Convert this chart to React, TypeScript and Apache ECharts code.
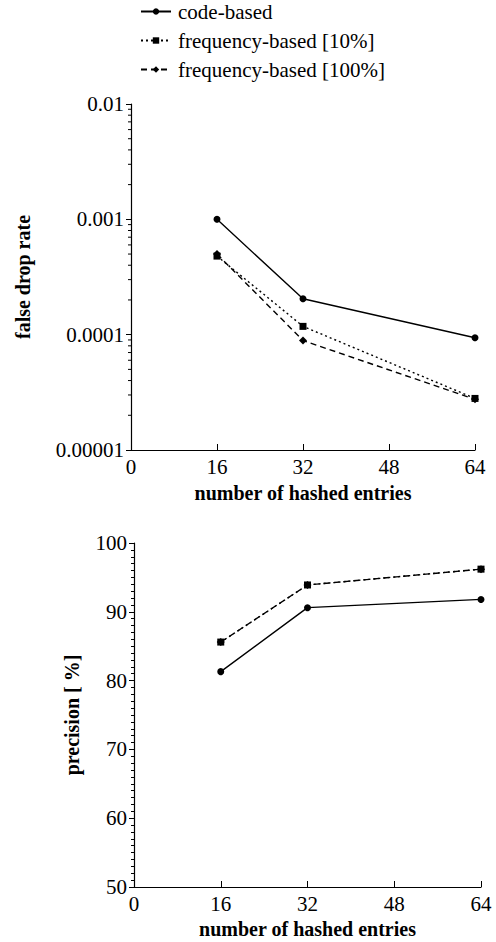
import React, { useEffect, useRef } from "react";
import * as echarts from "echarts";

const hashedEntries = [16, 32, 64];
const seriesNames = ["code-based", "frequency-based [10%]", "frequency-based [100%]"];

const codeFalseDrop = [0.001, 0.000205, 0.000094];
const freq10FalseDrop = [0.00048, 0.000118, 0.000028];
const freq100FalseDrop = [0.0005, 0.000089, 0.0000275];

const codePrecision = [81.3, 90.6, 91.8];
const freq10Precision = [85.6, 93.9, 96.2];
const freq100Precision = [85.6, 93.9, 96.2];

const falseDropTickLabels = ["0.00001", "0.0001", "0.001", "0.01"];
const falseDropDecades = [-5, -4, -3];
const minorMultipliers = [2, 3, 4, 5, 6, 7, 8, 9];

const FONT = "'Liberation Serif', 'Times New Roman', serif";

function pairs(xs: number[], ys: number[]) {
  return xs.map((x, i) => [x, ys[i]]);
}

export default function App() {
  const ref = useRef<HTMLDivElement>(null);
  useEffect(() => {
    if (!ref.current) return;
    const chart = echarts.init(ref.current, null, { renderer: "svg" });

    const minorTickValues: number[][] = [];
    falseDropDecades.forEach((d) =>
      minorMultipliers.forEach((m) => minorTickValues.push([0, m * Math.pow(10, d)]))
    );

    const styles = [
      { type: "solid", symbol: "circle", size: 7 },
      { type: [2, 3], symbol: "rect", size: 7 },
      { type: [6, 4], symbol: "diamond", size: 8 },
    ];

    const mkSeries = (name: string, idx: number, data: number[][], s: any, z: number) => ({
      name,
      type: "line",
      xAxisIndex: idx,
      yAxisIndex: idx,
      data,
      symbol: s.symbol,
      symbolSize: s.size,
      lineStyle: { color: "#000", width: 1.4, type: s.type },
      itemStyle: { color: "#000" },
      z,
    });

    const axisText = { color: "#000", fontFamily: FONT, fontSize: 21 };
    const nameText = { color: "#000", fontFamily: FONT, fontSize: 20, fontWeight: "bold" as const };

    const xAxisBase = (gridIndex: number, gap: number) => ({
      type: "value",
      gridIndex,
      min: 0,
      max: 64,
      interval: 16,
      name: "number of hashed entries",
      nameLocation: "middle",
      nameGap: gap,
      nameTextStyle: nameText,
      axisLine: { lineStyle: { color: "#000", width: 1.2 } },
      axisTick: { inside: true, length: 6, lineStyle: { color: "#000" } },
      axisLabel: { ...axisText, margin: 6 },
      splitLine: { show: false },
    });

    chart.setOption({
      animation: false,
      backgroundColor: "#fff",
      textStyle: { fontFamily: FONT, color: "#000" },
      legend: {
        orient: "vertical",
        left: 135,
        top: -4,
        itemWidth: 30,
        itemHeight: 8,
        itemGap: 8,
        data: seriesNames,
        textStyle: { color: "#000", fontFamily: FONT, fontSize: 21, padding: [0, 0, 0, 2] },
      },
      grid: [
        { left: 131, right: 21, top: 104, height: 346 },
        { left: 134, right: 15, top: 543, height: 344 },
      ],
      xAxis: [xAxisBase(0, 33), xAxisBase(1, 32)],
      yAxis: [
        {
          type: "log",
          gridIndex: 0,
          logBase: 10,
          min: 0.00001,
          max: 0.01,
          name: "false drop rate",
          nameLocation: "middle",
          nameGap: 98,
          nameTextStyle: nameText,
          axisLine: { show: true, lineStyle: { color: "#000", width: 1.2 } },
          axisTick: { show: true, length: 5, lineStyle: { color: "#000" } },
          axisLabel: {
            ...axisText,
            margin: 7,
            formatter: (v: number) => {
              const k = Math.round(Math.log10(v)) + 5;
              return falseDropTickLabels[k] ?? "";
            },
          },
          splitLine: { show: false },
        },
        {
          type: "value",
          gridIndex: 1,
          min: 50,
          max: 100,
          interval: 10,
          name: "precision [ %]",
          nameLocation: "middle",
          nameGap: 52,
          nameTextStyle: nameText,
          axisLine: { show: true, lineStyle: { color: "#000", width: 1.2 } },
          axisTick: { show: true, length: 5, lineStyle: { color: "#000" } },
          minorTick: { show: true, splitNumber: 10, length: 3, lineStyle: { color: "#000" } },
          axisLabel: { ...axisText, margin: 7 },
          splitLine: { show: false },
        },
      ],
      series: [
        {
          type: "custom",
          xAxisIndex: 0,
          yAxisIndex: 0,
          data: minorTickValues,
          clip: false,
          silent: true,
          renderItem: (params: any, api: any) => {
            const p = api.coord([api.value(0), api.value(1)]);
            return {
              type: "line",
              shape: { x1: p[0] - 3, y1: p[1], x2: p[0] + 1, y2: p[1] },
              style: { stroke: "#000", lineWidth: 1 },
            };
          },
        },
        mkSeries(seriesNames[0], 0, pairs(hashedEntries, codeFalseDrop), styles[0], 3),
        mkSeries(seriesNames[1], 0, pairs(hashedEntries, freq10FalseDrop), styles[1], 4),
        mkSeries(seriesNames[2], 0, pairs(hashedEntries, freq100FalseDrop), styles[2], 5),
        mkSeries(seriesNames[0], 1, pairs(hashedEntries, codePrecision), styles[0], 3),
        mkSeries(seriesNames[1], 1, pairs(hashedEntries, freq10Precision), styles[1], 4),
        mkSeries(seriesNames[2], 1, pairs(hashedEntries, freq100Precision), styles[2], 5),
      ],
    });
    return () => chart.dispose();
  }, []);

  return (
    <div
      ref={ref}
      style={{ position: "fixed", left: 0, top: 0, width: 496, height: 942, background: "#fff" }}
    />
  );
}
